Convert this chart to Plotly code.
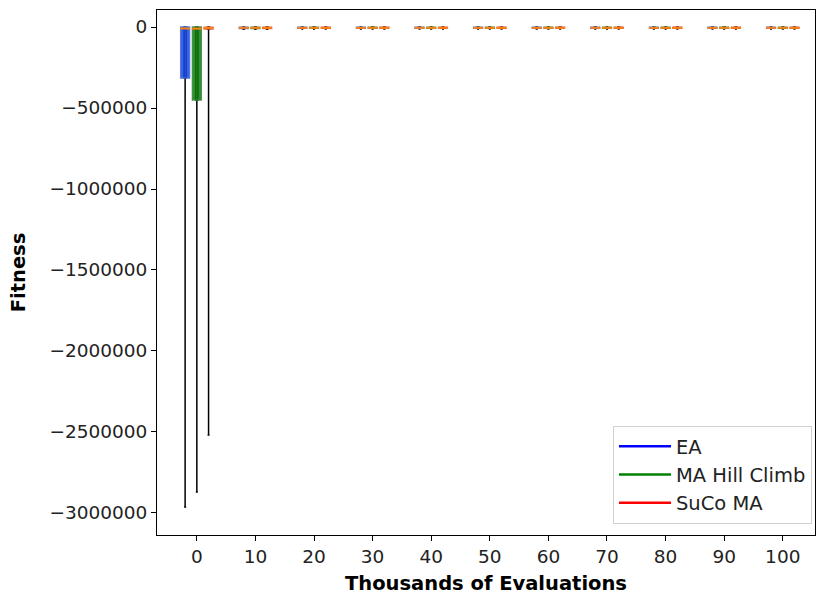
import plotly.graph_objects as go

evals = [0, 10, 20, 30, 40, 50, 60, 70, 80, 90, 100]
series_names = ["EA", "MA Hill Climb", "SuCo MA"]
offsets = [-2, 0, 2]

ea_lower = [-2963000, -14000, -13000, -13000, -12000, -12000, -12000, -12000, -12000, -12000, -12000]
ea_q1 = [-315000, -9000, -8000, -8000, -8000, -8000, -8000, -8000, -8000, -8000, -8000]
ea_med = [-9000, -5000, -5000, -5000, -5000, -5000, -5000, -5000, -5000, -5000, -5000]
ea_q3 = [0, -2000, -2000, -2000, -2000, -2000, -2000, -2000, -2000, -2000, -2000]
ea_upper = [0, 0, 0, 0, 0, 0, 0, 0, 0, 0, 0]

hc_lower = [-2870000, -14000, -13000, -13000, -12000, -12000, -12000, -12000, -12000, -12000, -12000]
hc_q1 = [-450000, -9000, -8000, -8000, -8000, -8000, -8000, -8000, -8000, -8000, -8000]
hc_med = [-10000, -5000, -5000, -5000, -5000, -5000, -5000, -5000, -5000, -5000, -5000]
hc_q3 = [0, -2000, -2000, -2000, -2000, -2000, -2000, -2000, -2000, -2000, -2000]
hc_upper = [0, 0, 0, 0, 0, 0, 0, 0, 0, 0, 0]

suco_lower = [-2519000, -14000, -13000, -13000, -12000, -12000, -12000, -12000, -12000, -12000, -12000]
suco_q1 = [-12000, -9000, -8000, -8000, -8000, -8000, -8000, -8000, -8000, -8000, -8000]
suco_med = [-6000, -5000, -5000, -5000, -5000, -5000, -5000, -5000, -5000, -5000, -5000]
suco_q3 = [-1000, -2000, -2000, -2000, -2000, -2000, -2000, -2000, -2000, -2000, -2000]
suco_upper = [0, 0, 0, 0, 0, 0, 0, 0, 0, 0, 0]

y_ticks = [0, -500000, -1000000, -1500000, -2000000, -2500000, -3000000]
x_ticks = evals

box_fill = ["rgba(20,70,230,0.85)", "rgba(10,125,10,0.85)", "rgba(225,45,40,0.85)"]
box_edge = ["rgba(70,110,220,0.9)", "rgba(60,140,60,0.9)", "rgba(220,80,70,0.9)"]
legend_cols = ["#0000ff", "#008000", "#ff0000"]

data = [
    (ea_lower, ea_q1, ea_med, ea_q3, ea_upper),
    (hc_lower, hc_q1, hc_med, hc_q3, hc_upper),
    (suco_lower, suco_q1, suco_med, suco_q3, suco_upper),
]

fig = go.Figure()
BW = 1.5
for i, (lo, q1, med, q3, up) in enumerate(data):
    xs = [e + offsets[i] for e in evals]
    # whiskers
    fig.add_trace(go.Box(
        x=xs, lowerfence=lo, q1=q1, median=med, q3=q3, upperfence=up,
        width=0.35, whiskerwidth=1.0,
        line=dict(color="black", width=1.5), fillcolor="rgba(0,0,0,0)",
        showlegend=False, hoverinfo="skip",
    ))
    # box body
    fig.add_trace(go.Box(
        x=xs, lowerfence=q1, q1=q1, median=med, q3=q3, upperfence=q3,
        width=BW, whiskerwidth=0,
        line=dict(color=box_edge[i], width=1.5), fillcolor=box_fill[i],
        showlegend=False, hoverinfo="skip",
    ))
    # median
    fig.add_trace(go.Scatter(
        x=xs, y=med, mode="markers",
        marker=dict(symbol="line-ew", size=7, line=dict(color="#ff7f0e", width=2)),
        showlegend=False, hoverinfo="skip",
    ))

for i, name in enumerate(series_names):
    fig.add_trace(go.Scatter(
        x=[None], y=[None], mode="lines", name=name, legendgroup=name,
        line=dict(color=legend_cols[i], width=2.5),
    ))

fig.update_layout(
    width=816, height=599,
    margin=dict(l=157, r=1, t=10, b=64),
    plot_bgcolor="white", paper_bgcolor="white",
    boxmode="overlay",
    font=dict(family="DejaVu Sans", size=18, color="#222222"),
    legend=dict(
        x=0.9954, y=0.021, xanchor="right", yanchor="bottom",
        bordercolor="#d0d0d0", borderwidth=1, bgcolor="rgba(255,255,255,0.8)",
        font=dict(size=19.5), itemwidth=52, tracegroupgap=0,
    ),
)
fig.update_xaxes(
    range=[-6.8, 105.5], tickvals=x_ticks, ticktext=[str(v) for v in x_ticks],
    showline=True, linecolor="black", linewidth=1, mirror=True,
    ticks="outside", ticklen=5, tickcolor="black", showgrid=False, zeroline=False,
    tickfont=dict(size=18.5),
    title=dict(text="<b>Thousands of Evaluations</b>", font=dict(size=19.5, color="black"), standoff=10),
)
fig.update_yaxes(
    range=[-3136000, 105000], tickvals=y_ticks,
    ticktext=[("\u2212" + str(-v)) if v < 0 else str(v) for v in y_ticks],
    showline=True, linecolor="black", linewidth=1, mirror=True,
    ticks="outside", ticklen=5, tickcolor="black", showgrid=False, zeroline=False,
    tickfont=dict(size=18.5),
    title=dict(text="<b>Fitness</b>", font=dict(size=19.5, color="black"), standoff=18),
)

fig.write_html("out.html")
